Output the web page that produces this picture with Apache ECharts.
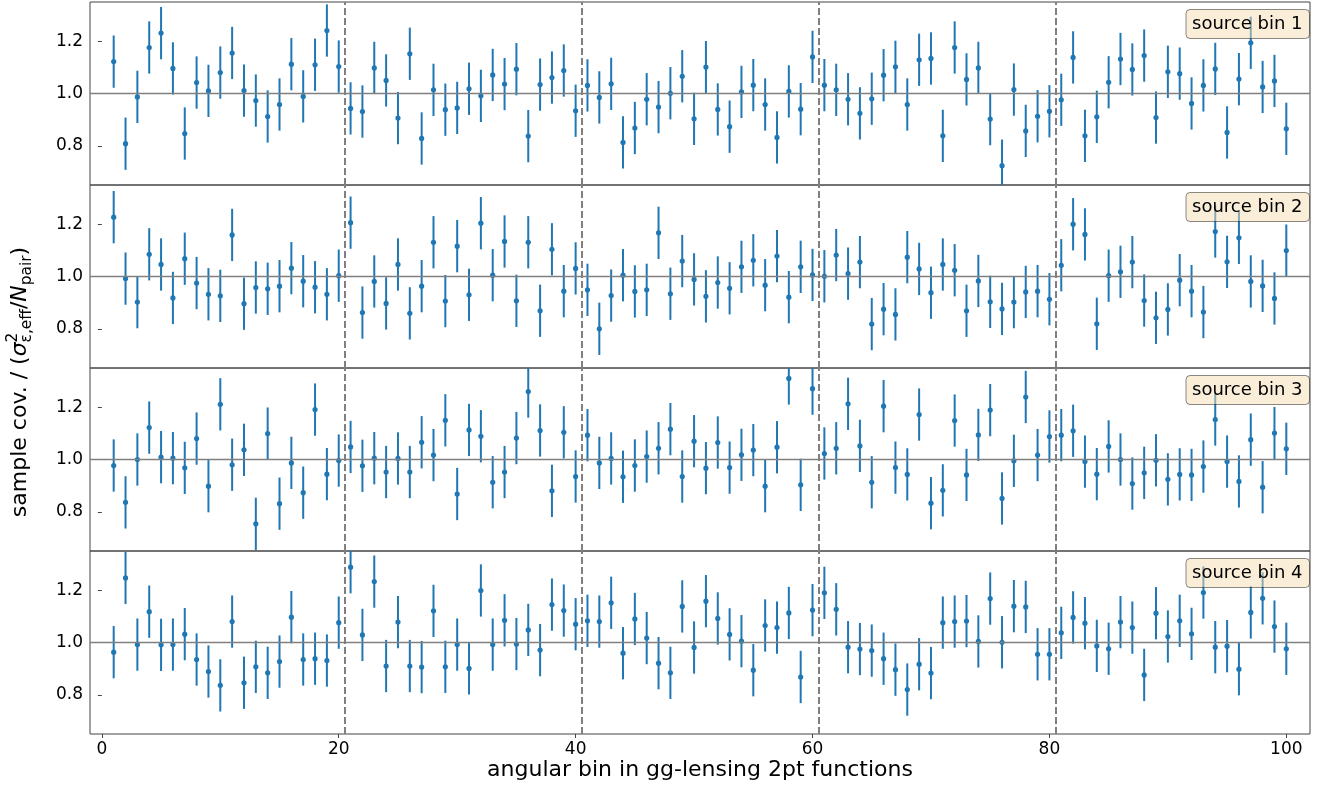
<!DOCTYPE html>
<html><head><meta charset="utf-8">
<script src="https://cdn.jsdelivr.net/npm/echarts@6/dist/echarts.min.js"></script>
<style>html,body{margin:0;padding:0;background:#fff}#chart{width:1322px;height:785px}</style>
</head><body><div id="chart"></div>
<script>
// ---- data ----
const bin1 = [1.122,0.808,0.987,1.176,1.231,1.096,0.847,1.042,1.010,1.080,
1.155,1.011,0.973,0.912,0.958,1.112,0.989,1.110,1.241,1.103,
0.943,0.931,1.098,1.050,0.906,1.152,0.828,1.014,0.938,0.945,
1.018,0.991,1.071,1.036,1.093,0.837,1.034,1.061,1.088,0.934,
1.031,0.985,1.037,0.813,0.868,0.978,0.948,1.001,1.066,0.903,
1.101,0.939,0.873,1.006,1.032,0.958,0.832,1.008,0.940,1.140,
1.032,1.014,0.978,0.924,0.980,1.070,1.102,0.958,1.129,1.134,
0.838,1.176,1.054,1.098,0.902,0.724,1.015,0.857,0.913,0.932,
0.976,1.138,0.838,0.911,1.043,1.132,1.092,1.145,0.908,1.083,
1.076,0.962,1.031,1.094,0.851,1.055,1.194,1.025,1.048,0.865];
const bin2 = [1.227,0.992,0.902,1.085,1.046,0.918,1.068,0.975,0.932,0.926,
1.159,0.896,0.958,0.953,0.963,1.032,0.982,0.959,0.932,1.003,
1.206,0.862,0.981,0.897,1.046,0.859,0.963,1.131,0.906,1.116,
0.930,1.204,1.005,1.134,0.907,1.131,0.869,1.104,0.944,1.031,
0.949,0.800,0.927,1.005,0.943,0.949,1.167,0.934,1.059,0.989,
0.924,0.977,0.955,1.037,1.062,0.967,1.078,0.921,1.037,1.006,
1.001,1.082,1.011,1.055,0.818,0.875,0.855,1.074,1.029,0.938,
1.046,1.024,0.869,0.983,0.903,0.876,0.902,0.941,0.944,0.913,
1.043,1.200,1.161,0.819,1.003,1.018,1.055,0.908,0.842,0.874,
0.986,0.944,0.864,1.172,1.056,1.148,0.981,0.964,0.916,1.099];
const bin3 = [0.977,0.836,1.000,1.122,1.009,1.005,0.968,1.080,0.898,1.211,
0.980,1.037,0.754,1.099,0.831,0.987,0.873,1.191,0.944,0.996,
1.048,0.976,1.005,0.952,1.004,0.952,1.066,1.017,1.150,0.868,
1.113,1.089,0.913,0.952,1.082,1.260,1.111,0.880,1.104,0.935,
1.093,0.987,1.004,0.934,0.977,1.011,1.043,1.116,0.935,1.070,
0.967,1.065,0.969,1.018,1.036,0.898,1.047,1.310,0.903,1.271,
1.023,1.043,1.213,1.052,0.913,1.204,0.969,0.943,1.172,0.833,
0.882,1.149,0.941,1.094,1.189,0.851,0.995,1.239,1.017,1.088,
1.093,1.110,0.992,0.944,1.050,1.000,0.908,0.949,0.997,0.924,
0.943,0.941,0.973,1.153,0.992,0.916,1.076,0.894,1.101,1.041];
const bin4 = [0.963,1.247,0.992,1.118,0.991,0.992,1.032,0.935,0.889,0.836,
1.080,0.846,0.907,0.884,0.927,1.097,0.935,0.938,0.931,1.076,
1.288,1.029,1.233,0.910,1.078,0.910,0.906,1.121,0.907,0.992,
0.901,1.199,0.992,1.085,0.994,1.048,0.971,1.145,1.122,1.070,
1.083,1.080,1.152,0.959,1.090,1.017,0.921,0.884,1.138,0.981,
1.158,1.092,1.031,1.005,0.894,1.065,1.057,1.113,0.868,1.124,
1.190,1.127,0.982,0.975,0.969,0.938,0.896,0.820,0.917,0.883,
1.076,1.080,1.082,1.004,1.168,1.001,1.139,1.136,0.955,0.955,
1.037,1.096,1.074,0.987,0.976,1.078,1.057,0.876,1.112,1.023,
1.083,1.033,1.191,0.982,0.986,0.898,1.115,1.169,1.061,0.976];
const ERR = 0.1;
const dividers = [20.5, 40.5, 60.5, 80.5];
const refLine = 1.0;
const xTicks = [0, 20, 40, 60, 80, 100];
const yTicks = [0.8, 1.0, 1.2];
const panelLabels = ['source bin 1', 'source bin 2', 'source bin 3', 'source bin 4'];
const xLabel = 'angular bin in gg-lensing 2pt functions';

// ---- layout / style ----
const bins = [bin1, bin2, bin3, bin4];
const FONT = 'DejaVu Sans';
const COLOR = '#1f77b4';
const LEFT = 90, RIGHT = 1310, TOP0 = 2, PH = 183;

const chart = echarts.init(document.getElementById('chart'), null, {renderer: 'canvas'});

function renderErr(params, api) {
  const x = api.value(0), y = api.value(1), e = api.value(2);
  const cs = params.coordSys;
  const p = api.coord([x, y]);
  let t = api.coord([x, y + e])[1], b = api.coord([x, y - e])[1];
  t = Math.max(t, cs.y); b = Math.min(b, cs.y + cs.height);
  return {type: 'group', children: [
    {type: 'line', shape: {x1: p[0], y1: t, x2: p[0], y2: b}, style: {stroke: COLOR, lineWidth: 2}},
    {type: 'circle', shape: {cx: p[0], cy: p[1], r: 2.6}, style: {fill: COLOR}}
  ]};
}

const grids = [], xAxes = [], yAxes = [], series = [], graphics = [];
bins.forEach((vals, i) => {
  const top = TOP0 + PH * i;
  const last = i === bins.length - 1;
  grids.push({left: LEFT, width: RIGHT - LEFT, top: top, height: PH, show: true,
    borderColor: '#444', borderWidth: 1, backgroundColor: 'transparent'});
  xAxes.push({type: 'value', gridIndex: i, min: -1, max: 102,
    axisLine: {show: false}, splitLine: {show: false},
    axisTick: {show: last, length: 4, lineStyle: {color: '#444'}, customValues: xTicks},
    axisLabel: {show: last, customValues: xTicks, fontSize: 17, fontFamily: FONT, color: '#000', margin: 7}});
  yAxes.push({type: 'value', gridIndex: i, min: 0.65, max: 1.35,
    axisLine: {show: false}, splitLine: {show: false},
    axisTick: {show: true, length: 4, lineStyle: {color: '#444'}, customValues: yTicks},
    axisLabel: {customValues: yTicks, formatter: v => v.toFixed(1), fontSize: 17, fontFamily: FONT, color: '#000', margin: 7}});
  series.push({type: 'line', xAxisIndex: i, yAxisIndex: i, data: [], silent: true, z: 1,
    markLine: {silent: true, symbol: 'none', animation: false, label: {show: false},
      data: [{yAxis: refLine, lineStyle: {color: '#808080', width: 1.3, type: 'solid'}}]
        .concat(dividers.map(d => ({xAxis: d, lineStyle: {color: '#808080', width: 2, type: [7, 3]}})))}});
  series.push({type: 'custom', xAxisIndex: i, yAxisIndex: i, z: 3,
    data: vals.map((v, k) => [k + 1, v, ERR]), renderItem: renderErr});
  graphics.push({type: 'rect', z: 100, shape: {x: 1186, y: top + 7.5, width: 123.5, height: 29, r: 4},
    style: {fill: 'rgba(245,222,179,0.5)', stroke: 'rgba(0,0,0,0.45)', lineWidth: 1}});
  graphics.push({type: 'text', z: 101, x: 1192, y: top + 22,
    style: {text: panelLabels[i], fontSize: 18, fontFamily: FONT, fill: '#000', align: 'left', verticalAlign: 'middle'}});
});

graphics.push({type: 'text', x: (LEFT + RIGHT) / 2, y: 770,
  style: {text: xLabel, fontSize: 22, fontFamily: FONT, fill: '#000', align: 'center', verticalAlign: 'middle'}});

// y label with math-like sub/superscripts, laid out along a rotated group
(function () {
  const ctx = document.createElement('canvas').getContext('2d');
  const MS = 22, SS = 15.4;
  function w(t, size, italic) { ctx.font = (italic ? 'italic ' : '') + size + 'px "' + FONT + '"'; return ctx.measureText(t).width; }
  const parts = [
    [{t: 'sample cov. / (', s: MS, it: false, dy: 0}],
    [{t: 'σ', s: MS, it: true, dy: 0}],
    [{t: '2', s: SS, it: false, dy: -7.5}, {t: 'ε,eff', s: SS, it: false, dy: 6}],
    [{t: '/', s: MS, it: false, dy: 0}],
    [{t: 'N', s: MS, it: true, dy: 0}],
    [{t: 'pair', s: SS, it: false, dy: 6}],
    [{t: ')', s: MS, it: false, dy: 0}]
  ];
  const widths = parts.map(p => Math.max.apply(null, p.map(q => w(q.t, q.s, q.it))));
  const total = widths.reduce((a, b) => a + b, 0);
  let x = -total / 2;
  const children = [];
  parts.forEach((p, k) => {
    p.forEach(q => children.push({type: 'text', x: x, y: q.dy,
      style: {text: q.t, fontSize: q.s, fontFamily: FONT, fontStyle: q.it ? 'italic' : 'normal',
        fill: '#000', align: 'left', verticalAlign: 'middle'}}));
    x += widths[k];
  });
  graphics.push({type: 'group', x: 20.5, y: 382, rotation: Math.PI / 2, children: children});
})();

chart.setOption({
  animation: false,
  grid: grids, xAxis: xAxes, yAxis: yAxes, series: series, graphic: graphics
});
</script>
</body></html>
